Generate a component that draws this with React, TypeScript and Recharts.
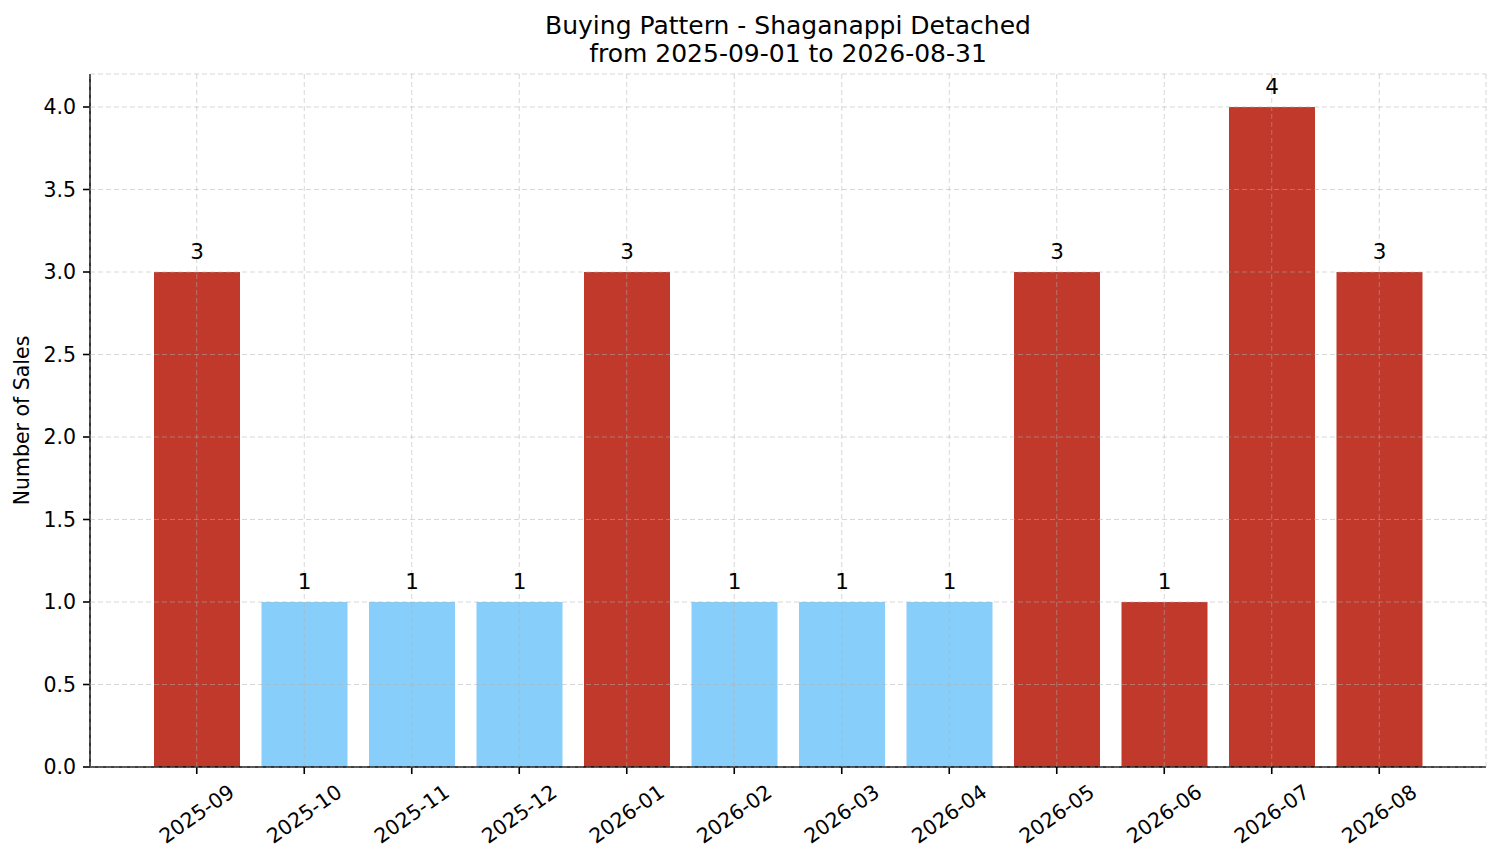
import { Bar, BarChart, CartesianGrid, Cell, LabelList, XAxis, YAxis } from "recharts";

const months = [
  "2025-09", "2025-10", "2025-11", "2025-12", "2026-01", "2026-02",
  "2026-03", "2026-04", "2026-05", "2026-06", "2026-07", "2026-08",
];
const sales = [3, 1, 1, 1, 3, 1, 1, 1, 3, 1, 4, 3];
const highlighted = ["2025-09", "2026-01", "2026-05", "2026-06", "2026-07", "2026-08"];
const yTicks = [0, 0.5, 1, 1.5, 2, 2.5, 3, 3.5, 4];

const RED = "#c0392b";
const BLUE = "#87cefa";
const FONT = "DejaVu Sans, sans-serif";

const chartData = months.map((month, i) => ({ month, sales: sales[i] }));

function MonthTick(props: any) {
  const { x, y, payload } = props;
  return (
    <g transform={`translate(${x},${y + 33})`}>
      <text
        x={0}
        y={0}
        textAnchor="middle"
        dominantBaseline="central"
        transform="rotate(-35)"
        fontSize={20.5}
        fontFamily={FONT}
        fill="#000"
      >
        {payload.value}
      </text>
    </g>
  );
}

export default function App() {
  return (
    <div style={{ position: "absolute", left: 0, top: 0, width: 1501, height: 863, background: "#fff" }}>
      <div
        style={{
          position: "absolute",
          left: 90,
          width: 1396,
          top: 12,
          textAlign: "center",
          fontFamily: FONT,
          fontSize: 25,
          lineHeight: "27.5px",
          color: "#000",
        }}
      >
        Buying Pattern - Shaganappi Detached
        <br />
        from 2025-09-01 to 2026-08-31
      </div>
      <BarChart
        width={1501}
        height={863}
        data={chartData}
        margin={{ top: 74, right: 15, bottom: 36, left: 20 }}
      >
        <XAxis
          dataKey="month"
          padding={{ left: 53, right: 53 }}
          height={60}
          interval={0}
          tickSize={7}
          tickMargin={7}
          tick={<MonthTick />}
          axisLine={{ stroke: "#000", strokeWidth: 1.6 }}
          tickLine={{ stroke: "#000", strokeWidth: 1.6 }}
        />
        <YAxis
          width={70}
          domain={[0, 4.2]}
          ticks={yTicks}
          interval={0}
          tickFormatter={(v: number) => v.toFixed(1)}
          tickSize={7}
          tickMargin={7}
          tick={{ fontSize: 20.5, fontFamily: FONT, fill: "#000" }}
          axisLine={{ stroke: "#000", strokeWidth: 1.6 }}
          tickLine={{ stroke: "#000", strokeWidth: 1.6 }}
          label={{
            content: (p: any) => {
              const vb = p.viewBox || {};
              const cx = 22;
              const cy = (vb.y ?? 74) + (vb.height ?? 693) / 2;
              return (
                <text
                  x={cx}
                  y={cy}
                  transform={`rotate(-90, ${cx}, ${cy})`}
                  textAnchor="middle"
                  dominantBaseline="central"
                  fontSize={20.5}
                  fontFamily={FONT}
                  fill="#000"
                >
                  Number of Sales
                </text>
              );
            },
          }}
        />
        <Bar dataKey="sales" barSize={86} isAnimationActive={false}>
          {chartData.map((d) => (
            <Cell key={d.month} fill={highlighted.includes(d.month) ? RED : BLUE} />
          ))}
          <LabelList
            dataKey="sales"
            position="top"
            offset={13}
            fontSize={21.5}
            fontFamily={FONT}
            fill="#000"
          />
        </Bar>
        <CartesianGrid
          stroke="#b0b0b0"
          strokeOpacity={0.5}
          strokeDasharray="5 3"
          strokeWidth={1}
          zIndex={500}
        />
      </BarChart>
    </div>
  );
}
